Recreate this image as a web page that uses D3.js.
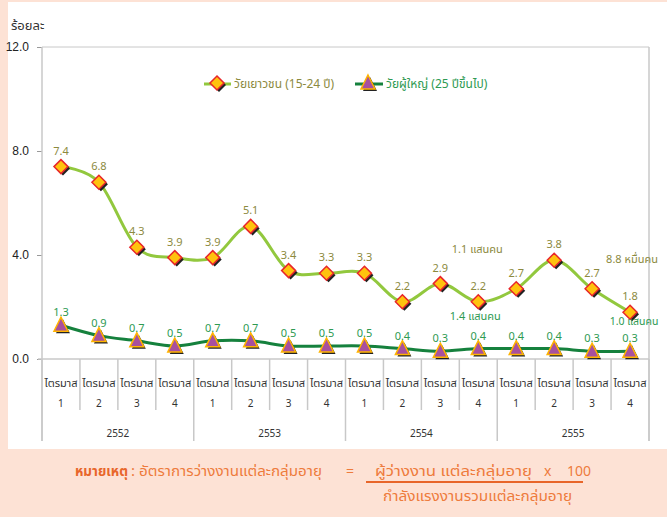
<!DOCTYPE html>
<html>
<head>
<meta charset="utf-8">
<script src="https://cdn.jsdelivr.net/npm/d3@7"></script>
<style>
  body { margin: 0; background: #fde2d5; }
  svg { display: block; font-family: Tahoma, "Noto Sans Thai", "Noto Sans", "DejaVu Sans", sans-serif; }
</style>
</head>
<body>
<svg id="chart" width="667" height="517"></svg>
<script>
"use strict";

// ข้อมูล
const quarters = ["1", "2", "3", "4", "1", "2", "3", "4", "1", "2", "3", "4", "1", "2", "3", "4"];
const years = ["2552", "2553", "2554", "2555"];
const youthRates = [7.4, 6.8, 4.3, 3.9, 3.9, 5.1, 3.4, 3.3, 3.3, 2.2, 2.9, 2.2, 2.7, 3.8, 2.7, 1.8];
const adultRates = [1.3, 0.9, 0.7, 0.5, 0.7, 0.7, 0.5, 0.5, 0.5, 0.4, 0.3, 0.4, 0.4, 0.4, 0.3, 0.3];
const yTicks = [0, 4, 8, 12];
const youthNotes = [{ i: 11, text: "1.1 แสนคน" }, { i: 15, text: "8.8 หมื่นคน" }];
const adultNotes = [{ i: 11, text: "1.4 แสนคน" }, { i: 15, text: "1.0 แสนคน" }];

const youthColor = "#92c83e", adultColor = "#15813d";
const youthText = "#8c8a3e", adultText = "#2e9a52";
const gridColor = "#c8c8c8";

const svg = d3.select("#chart");

// white panel
svg.append("rect").attr("x", 8).attr("y", 2).attr("width", 659).attr("height", 447).attr("fill", "white");

const x = d3.scaleBand().domain(d3.range(quarters.length)).range([42, 649]);
const y = d3.scaleLinear().domain([0, 12]).range([359, 47]);
const cx = i => x(i) + x.bandwidth() / 2;

svg.append("text").attr("x", 11).attr("y", 30).attr("font-size", 13).attr("fill", "#333").text("ร้อยละ");

// top and right border
svg.append("line").attr("x1", 42).attr("x2", 649).attr("y1", y(12)).attr("y2", y(12)).attr("stroke", gridColor);
svg.append("line").attr("x1", 649).attr("x2", 649).attr("y1", y(12)).attr("y2", 441).attr("stroke", gridColor).attr("stroke-width", 1.5);

// y axis
const yAxis = svg.append("g").attr("transform", "translate(42,0)")
  .call(d3.axisLeft(y).tickValues(yTicks).tickSize(5).tickPadding(8).tickFormat(d3.format(".1f")));
yAxis.select(".domain").remove();
yAxis.selectAll("line").attr("stroke", "#999");
yAxis.selectAll("text").attr("font-size", 12).attr("fill", "#222").attr("font-family", "'Liberation Sans', Arial, sans-serif");
svg.append("line").attr("x1", 42).attr("x2", 42).attr("y1", y(12)).attr("y2", 441).attr("stroke", gridColor).attr("stroke-width", 1.5);

// x axis
svg.append("line").attr("x1", 38).attr("x2", 649).attr("y1", y(0)).attr("y2", y(0)).attr("stroke", gridColor).attr("stroke-width", 1.5);
const xg = svg.append("g");
xg.selectAll("line.q").data(d3.range(quarters.length + 1)).enter().append("line")
  .attr("x1", i => 42 + i * x.bandwidth()).attr("x2", i => 42 + i * x.bandwidth())
  .attr("y1", y(0)).attr("y2", i => i % 4 === 0 ? 441 : 410)
  .attr("stroke", gridColor).attr("stroke-width", 1.5);
xg.selectAll("text.q1").data(quarters).enter().append("text")
  .attr("x", (d, i) => cx(i)).attr("y", 387).attr("text-anchor", "middle")
  .attr("font-size", 11).attr("fill", "#333").text("ไตรมาส");
xg.selectAll("text.q2").data(quarters).enter().append("text")
  .attr("x", (d, i) => cx(i)).attr("y", 407).attr("text-anchor", "middle")
  .attr("font-size", 10).attr("fill", "#333").text(d => d);
xg.selectAll("text.yr").data(years).enter().append("text")
  .attr("x", (d, i) => 42 + (i * 4 + 2) * x.bandwidth()).attr("y", 437).attr("text-anchor", "middle")
  .attr("font-size", 10).attr("fill", "#333").text(d => d);

// lines
const line = d3.line().x((d, i) => cx(i)).y(d => y(d)).curve(d3.curveCardinal.tension(0));
svg.append("path").datum(youthRates).attr("d", line).attr("fill", "none").attr("stroke", youthColor).attr("stroke-width", 3);
svg.append("path").datum(adultRates).attr("d", line).attr("fill", "none").attr("stroke", adultColor).attr("stroke-width", 3);

function diamond(g, px, py) {
  const s = 7;
  const pts = (ox, oy) => `${px + ox},${py - s + oy} ${px + s + ox},${py + oy} ${px + ox},${py + s + oy} ${px - s + ox},${py + oy}`;
  g.append("polygon").attr("points", pts(2, 2)).attr("fill", "#222");
  g.append("polygon").attr("points", pts(0, 0)).attr("fill", "#ffc20e").attr("stroke", "#e8262a").attr("stroke-width", 1.5);
}
function triangle(g, px, py) {
  const pts = (ox, oy) => `${px + ox},${py - 8 + oy} ${px + 7 + ox},${py + 6 + oy} ${px - 7 + ox},${py + 6 + oy}`;
  g.append("polygon").attr("points", pts(2, 2)).attr("fill", "#222");
  g.append("polygon").attr("points", pts(0, 0)).attr("fill", "#a8509e").attr("stroke", "#ffb400").attr("stroke-width", 1.5);
}

const youthG = svg.append("g");
youthRates.forEach((v, i) => diamond(youthG, cx(i), y(v)));
const adultG = svg.append("g");
adultRates.forEach((v, i) => triangle(adultG, cx(i), y(v)));

// data labels
svg.append("g").selectAll("text").data(youthRates).enter().append("text")
  .attr("x", (d, i) => cx(i)).attr("y", d => y(d) - 12).attr("text-anchor", "middle")
  .attr("font-size", 11).attr("fill", youthText).text(d => d.toFixed(1));
svg.append("g").selectAll("text").data(adultRates).enter().append("text")
  .attr("x", (d, i) => cx(i)).attr("y", d => y(d) - 9).attr("text-anchor", "middle")
  .attr("font-size", 11).attr("fill", adultText).text(d => d.toFixed(1));

// annotations (placed relative to the youth point of the same quarter)
svg.append("g").selectAll("text").data(youthNotes).enter().append("text")
  .attr("x", d => cx(d.i) + (d.i === 15 ? 2 : -1)).attr("y", d => y(youthRates[d.i]) - 49).attr("text-anchor", "middle")
  .attr("font-size", 11).attr("fill", youthText).text(d => d.text);
svg.append("g").selectAll("text").data(adultNotes).enter().append("text")
  .attr("x", d => cx(d.i) + (d.i === 15 ? 4 : -3)).attr("y", d => y(youthRates[d.i]) + (d.i === 15 ? 13 : 18)).attr("text-anchor", "middle")
  .attr("font-size", d => d.i === 15 ? 10.5 : 11).attr("fill", adultText).text(d => d.text);

// legend
const leg = svg.append("g");
leg.append("line").attr("x1", 204).attr("x2", 231).attr("y1", 84).attr("y2", 84).attr("stroke", youthColor).attr("stroke-width", 3);
diamond(leg, 217, 83);
leg.append("text").attr("x", 234).attr("y", 88).attr("font-size", 12).attr("fill", youthText).text("วัยเยาวชน (15-24 ปี)");
leg.append("line").attr("x1", 355).attr("x2", 383).attr("y1", 84).attr("y2", 84).attr("stroke", adultColor).attr("stroke-width", 3);
triangle(leg, 368, 83);
leg.append("text").attr("x", 386).attr("y", 88).attr("font-size", 12).attr("fill", adultText).text("วัยผู้ใหญ่ (25 ปีขึ้นไป)");

// footnote
const orange = "#ee7b3c";
const fn = svg.append("g").attr("fill", orange).attr("font-size", 14);
fn.append("text").attr("x", 75).attr("y", 476).attr("font-weight", "bold").attr("fill", "#e8662a")
  .attr("textLength", 53).attr("lengthAdjust", "spacingAndGlyphs").text("หมายเหตุ");
fn.append("text").attr("x", 131).attr("y", 476)
  .attr("textLength", 191).attr("lengthAdjust", "spacingAndGlyphs").text(": อัตราการว่างงานแต่ละกลุ่มอายุ");
fn.append("text").attr("x", 346).attr("y", 476).text("=");
fn.append("text").attr("x", 375).attr("y", 476)
  .attr("textLength", 157).attr("lengthAdjust", "spacingAndGlyphs").text("ผู้ว่างงาน แต่ละกลุ่มอายุ");
fn.append("text").attr("x", 544).attr("y", 476).text("x");
fn.append("text").attr("x", 567).attr("y", 476).text("100");
fn.append("line").attr("x1", 366).attr("x2", 583).attr("y1", 482).attr("y2", 482).attr("stroke", "#e8662a").attr("stroke-width", 2);
fn.append("text").attr("x", 383).attr("y", 501)
  .attr("textLength", 189).attr("lengthAdjust", "spacingAndGlyphs").text("กำลังแรงงานรวมแต่ละกลุ่มอายุ");
</script>
</body>
</html>
